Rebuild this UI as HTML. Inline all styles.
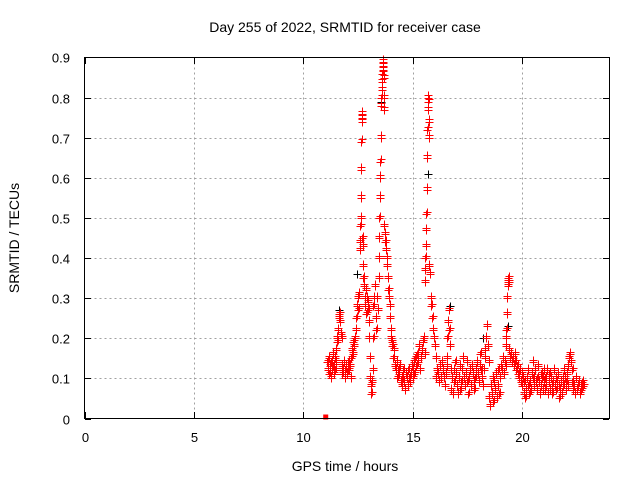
<!DOCTYPE html>
<html><head><meta charset="utf-8"><style>
body{margin:0;background:#fff}
#wrap{position:relative;width:640px;height:480px;overflow:hidden}
svg{display:block;font-family:"Liberation Sans",sans-serif}
#frame{position:absolute;left:84px;top:57px;width:524px;height:360px;border:1px solid #000;pointer-events:none}
.tk{position:absolute;background:#000}
</style></head><body>
<div id="wrap">
<svg id="chart" width="640" height="480" viewBox="0 0 640 480">
<rect width="640" height="480" fill="#fff"/>
<text x="345" y="32" font-size="14" text-anchor="middle">Day 255 of 2022, SRMTID for receiver case</text>
<g id="grid"></g>
<g id="black"></g>
<g id="red"></g>
<g id="axes"></g>
<text x="345" y="471" font-size="14" text-anchor="middle">GPS time / hours</text>
<text x="19" y="238" font-size="14" text-anchor="middle" transform="rotate(-90 19 238)">SRMTID / TECUs</text>
</svg>
<div id="frame"></div>
</div>
<script>
const xTicks=[0,5,10,15,20];
const yTicks=[0,0.1,0.2,0.3,0.4,0.5,0.6,0.7,0.8,0.9];
const yTickLabels=["0","0.1","0.2","0.3","0.4","0.5","0.6","0.7","0.8","0.9"];
const segStart=[11.1,11.5,11.75,12.2,12.58,12.72,13.0,13.2,13.45,13.7,14.0,14.5,15.0,15.55,15.75,16.05,16.55,16.75,18.3,18.5,19.0,19.25,19.4,20.0,21.0,22.1,22.3];
const segEnd=[11.5,11.75,12.2,12.55,12.72,13.0,13.2,13.45,13.7,14.0,14.5,15.0,15.55,15.75,16.05,16.55,16.75,18.3,18.5,19.0,19.25,19.4,20.0,21.0,22.1,22.3,22.8];
const segVals=[
[.14,.12,.15,.11,.13,.1,.14,.12,.16,.13,.11,.15,.12,.14],
[.17,.2,.19,.22,.25,.26,.24,.21,.2],
[.13,.11,.12,.14,.1,.12,.13,.11,.12,.14,.12,.13,.1,.15],
[.15,.17,.16,.19,.18,.2,.22,.25,.28,.3,.27,.31],
[.42,.44,.48,.5,.55,.62,.69,.75,.76,.74,.45,.43],
[.38,.35,.33,.3,.28,.32,.26,.3,.29,.27,.24],
[.2,.15,.1,.08,.06,.09,.12,.2],
[.28,.3,.33,.25,.22,.3,.27,.35],
[.4,.45,.5,.55,.6,.64,.7,.78,.8,.82,.84,.86,.88,.89,.87,.85,.8,.77],
[.48,.46,.44,.42,.4,.38,.35,.32,.3,.28,.25,.22],
[.2,.19,.18,.15,.17,.13,.12,.14,.1,.12,.11,.13,.09,.1],
[.08,.1,.12,.09,.07,.11,.1,.08,.12,.1,.09,.11,.13,.1],
[.12,.14,.11,.15,.13,.16,.14,.18,.12,.15,.17,.19,.2,.16],
[.34,.37,.4,.43,.47,.51,.57,.65,.72,.77,.8,.79,.74,.7],
[.38,.36,.3,.28,.25,.22,.2,.18,.15],
[.1,.12,.11,.09,.13,.1,.14,.12,.1,.08,.11,.13],
[.15,.2,.24,.27,.22,.18,.12],
[.07,.1,.06,.12,.09,.14,.11,.08,.06,.1,.13,.07,.09,.12,.15,.1,.08,.11,.14,.09,.06,.1,.12,.08,.13,.11,.09,.07,.1,.12,.14,.11,.09,.13,.16,.12,.1,.08,.12,.15],
[.17,.2,.23,.18,.14],
[.05,.03,.08,.06,.1,.04,.09,.07,.11,.05,.08,.12,.06,.1],
[.1,.13,.12,.15,.11,.14,.13],
[.18,.2,.22,.26,.3,.33,.34,.35,.34],
[.17,.15,.16,.14,.15,.13,.16,.14,.12,.13,.11,.1,.12,.09,.11],
[.08,.1,.06,.09,.05,.07,.1,.12,.08,.06,.09,.07,.11,.14,.1,.08,.12,.09,.07,.1,.13,.09,.06,.08,.11,.1,.07,.12],
[.09,.07,.1,.08,.12,.06,.09,.11,.07,.1,.08,.06,.09,.12,.08,.1,.07,.09,.11,.08,.05,.07,.09,.06,.1,.08,.12,.1,.07,.09,.11,.08],
[.13,.15,.16,.14,.12],
[.09,.07,.08,.06,.1,.07,.08,.09,.06,.08,.07,.09,.08]
];
const blackTimes=[12.45,13.55,15.7,16.72,18.2,19.35,22.2,11.62];
const blackVals=[0.36,0.79,0.61,0.28,0.2,0.23,0.16,0.27];
const zeroTimes=[11.05];
const zeroVals=[0];

const X0=84.5,X1=609.5,Y0=418.5,Y1=57.5,XMAX=24,YMAX=0.9;
const sx=t=>X0+(X1-X0)*t/XMAX;
const sy=v=>Y0-(Y0-Y1)*v/YMAX;
const NS="http://www.w3.org/2000/svg";
function mk(tag,attrs,parent){const e=document.createElementNS(NS,tag);for(const k in attrs)e.setAttribute(k,attrs[k]);parent.appendChild(e);return e;}
const grid=document.getElementById('grid'),axes=document.getElementById('axes');
const wrap=document.getElementById('wrap');
function tickDiv(l,t,w,h,name){
 const d=document.createElement('div');
 d.className='tk';
 d.style.left=l+'px';d.style.top=t+'px';d.style.width=w+'px';d.style.height=h+'px';
 
 
 wrap.appendChild(d);
}
xTicks.forEach((t,i)=>{
 const x=Math.round(sx(t));
 if(i>0){const g=mk('path',{d:`M${x+0.5} ${Y1}V${Y0}`,style:'stroke:#a0a0a0;stroke-dasharray:2,3;fill:none'},grid);
 
 }
 tickDiv(x,412,1,6,'x-tick');
 tickDiv(x,58,1,6,'x-tick-mirror');
 const l=mk('text',{x:x+0.5,y:442,'font-size':13,'text-anchor':'middle',fill:'#000'},axes);
 l.textContent=String(t);
 
 
});
yTicks.forEach((v,i)=>{
 const y=Math.round(sy(v));
 if(i>0&&i<yTicks.length-1){const g=mk('path',{d:`M${X0} ${y+0.5}H${X1}`,style:'stroke:#a0a0a0;stroke-dasharray:2,3;fill:none'},grid);
 
 }
 tickDiv(85,y,6,1,'y-tick');
 tickDiv(603,y,6,1,'y-tick-mirror');
 const l=mk('text',{x:70,y:y+5.5,'font-size':13,'text-anchor':'end',fill:'#000'},axes);
 l.textContent=yTickLabels[i];
 
 
});
function plus(t,v,color,parent){
 const x=Math.round(sx(t))+0.5,y=Math.round(sy(v))+0.5;
 const p=mk('path',{d:`M${x-4} ${y}H${x+4}M${x} ${y-4}V${y+4}`,style:`stroke:${color};stroke-width:1;fill:none`},parent);
 
 
}
const blk=document.getElementById('black'),red=document.getElementById('red');
blackTimes.forEach((t,i)=>plus(t,blackVals[i],'#000',blk));
segVals.forEach((vals,s)=>{
 const n=vals.length;
 vals.forEach((v,i)=>{
  const t=segStart[s]+(segEnd[s]-segStart[s])*(n>1?i/(n-1):0);
  plus(t,v,'#ff0000',red);
  plus(t+0.012,v+0.006,'#ff0000',red);
 });
});
zeroTimes.forEach((t,i)=>{
 const r=mk('rect',{x:sx(t)-3,y:sy(zeroVals[i])-4,width:5,height:5,fill:'#ff0000'},red);
 
 
});
</script>
</body></html>
